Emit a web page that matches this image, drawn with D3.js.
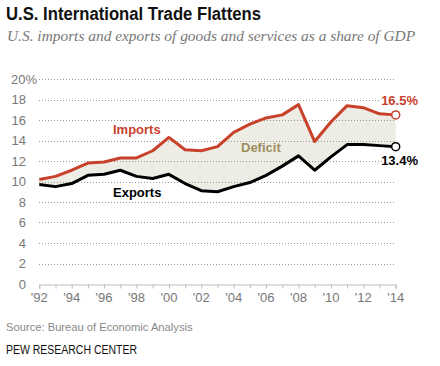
<!DOCTYPE html>
<html><head><meta charset="utf-8">
<script src="https://cdn.jsdelivr.net/npm/d3@7"></script>
<style>body{margin:0;background:#fff}svg{display:block}</style>
</head><body>
<script>
const years = d3.range(1992, 2015);
const imports = [10.2,10.5,11.1,11.8,11.9,12.3,12.3,13.0,14.3,13.1,13.0,13.4,14.8,15.6,16.2,16.5,17.5,13.9,15.8,17.4,17.2,16.6,16.5];
const exportsV = [9.7,9.5,9.8,10.6,10.7,11.1,10.5,10.3,10.7,9.8,9.1,9.0,9.5,9.9,10.6,11.5,12.5,11.1,12.4,13.6,13.6,13.5,13.4];
const yTicks = [0,2,4,6,8,10,12,14,16,18,20];
const xTicks = [1992,1994,1996,1998,2000,2002,2004,2006,2008,2010,2012,2014];

const W = 440, H = 366;
const svg = d3.select("body").append("svg").attr("width", W).attr("height", H);
const x = d3.scaleLinear().domain([1992, 2014]).range([39.3, 395.7]);
const y = d3.scaleLinear().domain([0, 20]).range([284, 79]);
const sans = "'Liberation Sans', Arial, sans-serif";

svg.append("text").attr("x", 6).attr("y", 20).text("U.S. International Trade Flattens")
  .attr("font-family", sans).attr("font-weight", "bold").attr("font-size", 18).attr("fill", "#111")
  .attr("textLength", 255).attr("lengthAdjust", "spacingAndGlyphs");
svg.append("text").attr("x", 7).attr("y", 41).text("U.S. imports and exports of goods and services as a share of GDP")
  .attr("font-family", "'Liberation Serif', Georgia, serif").attr("font-style", "italic").attr("font-size", 15.4).attr("fill", "#777");

// fill between
const data = years.map((yr, i) => ({yr, im: imports[i], ex: exportsV[i]}));
svg.append("path").datum(data)
  .attr("d", d3.area().x(d => x(d.yr)).y0(d => y(d.ex)).y1(d => y(d.im)))
  .attr("fill", "#eeede5");

// gridlines
svg.append("g").selectAll("line").data(yTicks.filter(t => t > 0)).join("line")
  .attr("x1", 39).attr("x2", 395).attr("y1", d => Math.round(y(d)) + 0.5).attr("y2", d => Math.round(y(d)) + 0.5)
  .attr("stroke", "#999").attr("stroke-width", 1).attr("stroke-dasharray", "1,2");

// y labels
svg.append("g").selectAll("text").data(yTicks).join("text")
  .attr("x", 26).attr("y", d => y(d) + 4.5).attr("text-anchor", "end")
  .attr("font-family", sans).attr("font-size", 13).attr("fill", "#777")
  .text(d => d).each(function(d){ if (d === 20) d3.select(this).attr("text-anchor", "start").attr("x", 11).append("tspan").text("%"); });

// x axis
const xa = svg.append("g").attr("transform", `translate(0,${y(0)+0.5})`)
  .call(d3.axisBottom(x).tickValues(years).tickSize(4).tickFormat(""));
xa.select(".domain").attr("stroke", "#bbb");
xa.selectAll(".tick line").attr("stroke", "#bbb");
svg.append("g").selectAll("text").data(xTicks).join("text")
  .attr("x", d => x(d)).attr("y", 302).attr("text-anchor", "middle")
  .attr("font-family", sans).attr("font-size", 13).attr("fill", "#777")
  .text(d => "'" + String(d).slice(2));

// lines
const line = key => d3.line().x(d => x(d.yr)).y(d => y(d[key]));
svg.append("path").datum(data).attr("d", line("im")).attr("fill", "none").attr("stroke", "#c8412b").attr("stroke-width", 3).attr("stroke-linejoin", "round");
svg.append("path").datum(data).attr("d", line("ex")).attr("fill", "none").attr("stroke", "#000").attr("stroke-width", 3).attr("stroke-linejoin", "round");

// end points
const last = data[data.length - 1];
svg.append("circle").attr("cx", x(last.yr)).attr("cy", y(last.im)).attr("r", 4).attr("fill", "#fff").attr("stroke", "#c8412b").attr("stroke-width", 1.5);
svg.append("circle").attr("cx", x(last.yr)).attr("cy", y(last.ex)).attr("r", 4).attr("fill", "#fff").attr("stroke", "#000").attr("stroke-width", 1.5);

const lab = (t, xx, yy, col, anchor) => svg.append("text").attr("x", xx).attr("y", yy).text(t)
  .attr("font-family", sans).attr("font-weight", "bold").attr("font-size", 13).attr("fill", col)
  .attr("text-anchor", anchor || "start").attr("stroke", "#fff").attr("stroke-width", 3).attr("paint-order", "stroke");
lab(last.im + "%", 418, 105, "#c8412b", "end");
lab(last.ex + "%", 418, 165, "#000", "end");
lab("Imports", 113, 134, "#c8412b");
lab("Exports", 113, 197, "#000");
svg.append("text").attr("x", 241).attr("y", 152).text("Deficit")
  .attr("font-family", sans).attr("font-weight", "bold").attr("font-size", 13).attr("fill", "#9c8f5e");

svg.append("text").attr("x", 6).attr("y", 331).text("Source: Bureau of Economic Analysis")
  .attr("font-family", sans).attr("font-size", 11.2).attr("fill", "#888");
svg.append("text").attr("x", 6).attr("y", 354).text("PEW RESEARCH CENTER")
  .attr("font-family", sans).attr("font-size", 12).attr("fill", "#111")
  .attr("textLength", 131).attr("lengthAdjust", "spacingAndGlyphs");
</script>
</body></html>
